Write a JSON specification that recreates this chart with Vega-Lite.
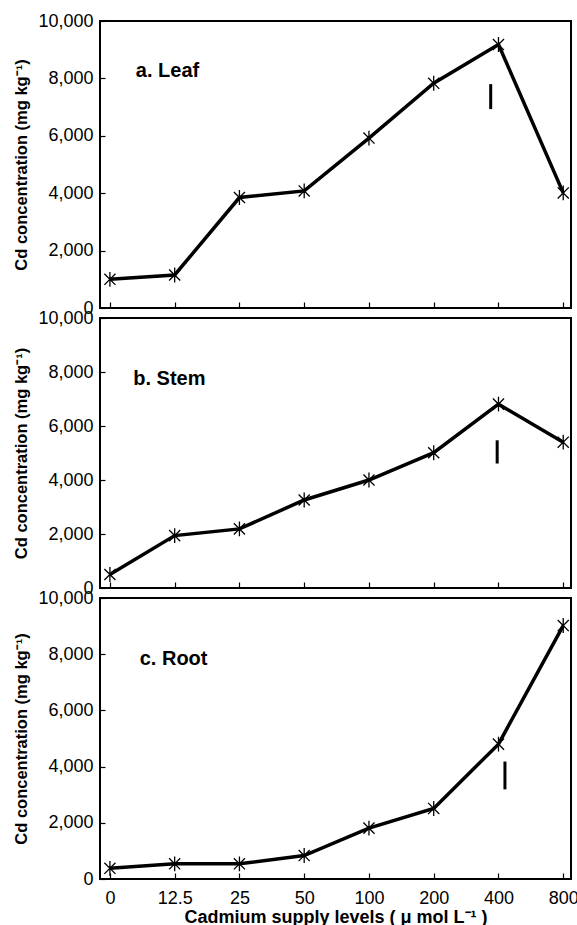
{
  "$schema": "https://vega.github.io/schema/vega-lite/v6.json",
  "padding": {"left": 12, "top": 11, "right": 6, "bottom": 0},
  "background": "white",
  "config": {
    "font": "Liberation Sans",
    "view": {"stroke": "black", "strokeWidth": 2},
    "axis": {"grid": false, "domain": false, "labelColor": "black", "tickColor": "black", "titleColor": "black", "labelFontSize": 18, "labelFont": "Liberation Sans", "titleFont": "Liberation Sans", "titleFontSize": 16.5, "titleFontWeight": "bold", "tickWidth": 1.2}
  },
  "datasets": {
    "cd": [
      {"organ": "Leaf", "level": "0", "idx": 0, "cd": 1000},
      {"organ": "Leaf", "level": "12.5", "idx": 1, "cd": 1150},
      {"organ": "Leaf", "level": "25", "idx": 2, "cd": 3850},
      {"organ": "Leaf", "level": "50", "idx": 3, "cd": 4080},
      {"organ": "Leaf", "level": "100", "idx": 4, "cd": 5920},
      {"organ": "Leaf", "level": "200", "idx": 5, "cd": 7830},
      {"organ": "Leaf", "level": "400", "idx": 6, "cd": 9180},
      {"organ": "Leaf", "level": "800", "idx": 7, "cd": 4010},
      {"organ": "Stem", "level": "0", "idx": 0, "cd": 500},
      {"organ": "Stem", "level": "12.5", "idx": 1, "cd": 1940},
      {"organ": "Stem", "level": "25", "idx": 2, "cd": 2190},
      {"organ": "Stem", "level": "50", "idx": 3, "cd": 3260},
      {"organ": "Stem", "level": "100", "idx": 4, "cd": 4000},
      {"organ": "Stem", "level": "200", "idx": 5, "cd": 5010},
      {"organ": "Stem", "level": "400", "idx": 6, "cd": 6810},
      {"organ": "Stem", "level": "800", "idx": 7, "cd": 5400},
      {"organ": "Root", "level": "0", "idx": 0, "cd": 380},
      {"organ": "Root", "level": "12.5", "idx": 1, "cd": 540},
      {"organ": "Root", "level": "25", "idx": 2, "cd": 540},
      {"organ": "Root", "level": "50", "idx": 3, "cd": 835},
      {"organ": "Root", "level": "100", "idx": 4, "cd": 1810},
      {"organ": "Root", "level": "200", "idx": 5, "cd": 2510},
      {"organ": "Root", "level": "400", "idx": 6, "cd": 4800},
      {"organ": "Root", "level": "800", "idx": 7, "cd": 9020}
    ],
    "lsd": [
      {"organ": "Leaf", "idx": 5.88, "lo": 6930, "hi": 7800},
      {"organ": "Stem", "idx": 5.98, "lo": 4610, "hi": 5470},
      {"organ": "Root", "idx": 6.1, "lo": 3190, "hi": 4180}
    ],
    "panels": [
      {"organ": "Leaf", "label": "a. Leaf"},
      {"organ": "Stem", "label": "b. Stem"},
      {"organ": "Root", "label": "c. Root"}
    ]
  },
  "spacing": 10,
  "bounds": "flush",
  "vconcat": [
    {
      "width": 471, "height": 287,
      "layer": [
        {"data": {"name": "cd"}, "transform": [{"filter": "datum.organ == 'Leaf'"}], "mark": {"type": "line", "color": "black", "strokeWidth": 3.5},
         "encoding": {
           "x": {"field": "idx", "type": "quantitative", "scale": {"domain": [-0.153, 7.12], "nice": false, "zero": false}, "axis": {"values": [0,1,2,3,4,5,6,7], "labels": false, "title": null, "tickSize": -6}},
           "y": {"field": "cd", "type": "quantitative", "scale": {"domain": [0, 10000], "nice": false}, "axis": {"values": [0,1000,2000,3000,4000,5000,6000,7000,8000,9000,10000], "labelExpr": "datum.value % 2000 == 0 ? format(datum.value, ',') : ''", "tickSize": -5, "labelPadding": 12, "title": "Cd concentration (mg kg⁻¹)", "titlePadding": 8}}
         }},
        {"data": {"name": "cd"}, "transform": [{"filter": "datum.organ == 'Leaf'"}], "mark": {"type": "point", "shape": "M0,-1L0,1M-0.75,-0.75L0.75,0.75M-0.75,0.75L0.75,-0.75", "filled": false, "color": "black", "strokeWidth": 1.3, "size": 220, "opacity": 1},
         "encoding": {"x": {"field": "idx", "type": "quantitative"}, "y": {"field": "cd", "type": "quantitative", "title": "Cd concentration (mg kg⁻¹)"}}},
        {"data": {"name": "lsd"}, "transform": [{"filter": "datum.organ == 'Leaf'"}], "mark": {"type": "rule", "color": "black", "strokeWidth": 3},
         "encoding": {"x": {"field": "idx", "type": "quantitative"}, "y": {"field": "lo", "type": "quantitative", "title": "Cd concentration (mg kg⁻¹)"}, "y2": {"field": "hi"}}},
        {"data": {"name": "panels"}, "transform": [{"filter": "datum.organ == 'Leaf'"}], "mark": {"type": "text", "align": "left", "baseline": "middle", "fontSize": 20, "fontWeight": "bold", "color": "black"},
         "encoding": {"x": {"datum": 0.4, "type": "quantitative"}, "y": {"datum": 8260, "type": "quantitative"}, "text": {"field": "label"}}}
      ]
    },
    {
      "width": 471, "height": 270,
      "layer": [
        {"data": {"name": "cd"}, "transform": [{"filter": "datum.organ == 'Stem'"}], "mark": {"type": "line", "color": "black", "strokeWidth": 3.5},
         "encoding": {
           "x": {"field": "idx", "type": "quantitative", "scale": {"domain": [-0.153, 7.12], "nice": false, "zero": false}, "axis": {"values": [0,1,2,3,4,5,6,7], "labels": false, "title": null, "tickSize": -6}},
           "y": {"field": "cd", "type": "quantitative", "scale": {"domain": [0, 10000], "nice": false}, "axis": {"values": [0,1000,2000,3000,4000,5000,6000,7000,8000,9000,10000], "labelExpr": "datum.value % 2000 == 0 ? format(datum.value, ',') : ''", "tickSize": -5, "labelPadding": 12, "title": "Cd concentration (mg kg⁻¹)", "titlePadding": 8}}
         }},
        {"data": {"name": "cd"}, "transform": [{"filter": "datum.organ == 'Stem'"}], "mark": {"type": "point", "shape": "M0,-1L0,1M-0.75,-0.75L0.75,0.75M-0.75,0.75L0.75,-0.75", "filled": false, "color": "black", "strokeWidth": 1.3, "size": 220, "opacity": 1},
         "encoding": {"x": {"field": "idx", "type": "quantitative"}, "y": {"field": "cd", "type": "quantitative", "title": "Cd concentration (mg kg⁻¹)"}}},
        {"data": {"name": "lsd"}, "transform": [{"filter": "datum.organ == 'Stem'"}], "mark": {"type": "rule", "color": "black", "strokeWidth": 3},
         "encoding": {"x": {"field": "idx", "type": "quantitative"}, "y": {"field": "lo", "type": "quantitative", "title": "Cd concentration (mg kg⁻¹)"}, "y2": {"field": "hi"}}},
        {"data": {"name": "panels"}, "transform": [{"filter": "datum.organ == 'Stem'"}], "mark": {"type": "text", "align": "left", "baseline": "middle", "fontSize": 20, "fontWeight": "bold", "color": "black"},
         "encoding": {"x": {"datum": 0.36, "type": "quantitative"}, "y": {"datum": 7730, "type": "quantitative"}, "text": {"field": "label"}}}
      ]
    },
    {
      "width": 471, "height": 281,
      "layer": [
        {"data": {"name": "cd"}, "transform": [{"filter": "datum.organ == 'Root'"}], "mark": {"type": "line", "color": "black", "strokeWidth": 3.5},
         "encoding": {
           "x": {"field": "idx", "type": "quantitative", "scale": {"domain": [-0.153, 7.12], "nice": false, "zero": false}, "axis": {"values": [0,1,2,3,4,5,6,7], "labelExpr": "['0','12.5','25','50','100','200','400','800'][datum.value]", "tickSize": -6, "labelPadding": 16, "title": "Cadmium supply levels ( μ mol L⁻¹ )", "titleFontSize": 18, "titlePadding": 1}},
           "y": {"field": "cd", "type": "quantitative", "scale": {"domain": [0, 10000], "nice": false}, "axis": {"values": [0,1000,2000,3000,4000,5000,6000,7000,8000,9000,10000], "labelExpr": "datum.value % 2000 == 0 ? format(datum.value, ',') : ''", "tickSize": -5, "labelPadding": 12, "title": "Cd concentration (mg kg⁻¹)", "titlePadding": 8}}
         }},
        {"data": {"name": "cd"}, "transform": [{"filter": "datum.organ == 'Root'"}], "mark": {"type": "point", "shape": "M0,-1L0,1M-0.75,-0.75L0.75,0.75M-0.75,0.75L0.75,-0.75", "filled": false, "color": "black", "strokeWidth": 1.3, "size": 220, "opacity": 1},
         "encoding": {"x": {"field": "idx", "type": "quantitative", "title": "Cadmium supply levels ( μ mol L⁻¹ )"}, "y": {"field": "cd", "type": "quantitative", "title": "Cd concentration (mg kg⁻¹)"}}},
        {"data": {"name": "lsd"}, "transform": [{"filter": "datum.organ == 'Root'"}], "mark": {"type": "rule", "color": "black", "strokeWidth": 3},
         "encoding": {"x": {"field": "idx", "type": "quantitative", "title": "Cadmium supply levels ( μ mol L⁻¹ )"}, "y": {"field": "lo", "type": "quantitative", "title": "Cd concentration (mg kg⁻¹)"}, "y2": {"field": "hi"}}},
        {"data": {"name": "panels"}, "transform": [{"filter": "datum.organ == 'Root'"}], "mark": {"type": "text", "align": "left", "baseline": "middle", "fontSize": 20, "fontWeight": "bold", "color": "black"},
         "encoding": {"x": {"datum": 0.46, "type": "quantitative"}, "y": {"datum": 7820, "type": "quantitative"}, "text": {"field": "label"}}}
      ]
    }
  ]
}
